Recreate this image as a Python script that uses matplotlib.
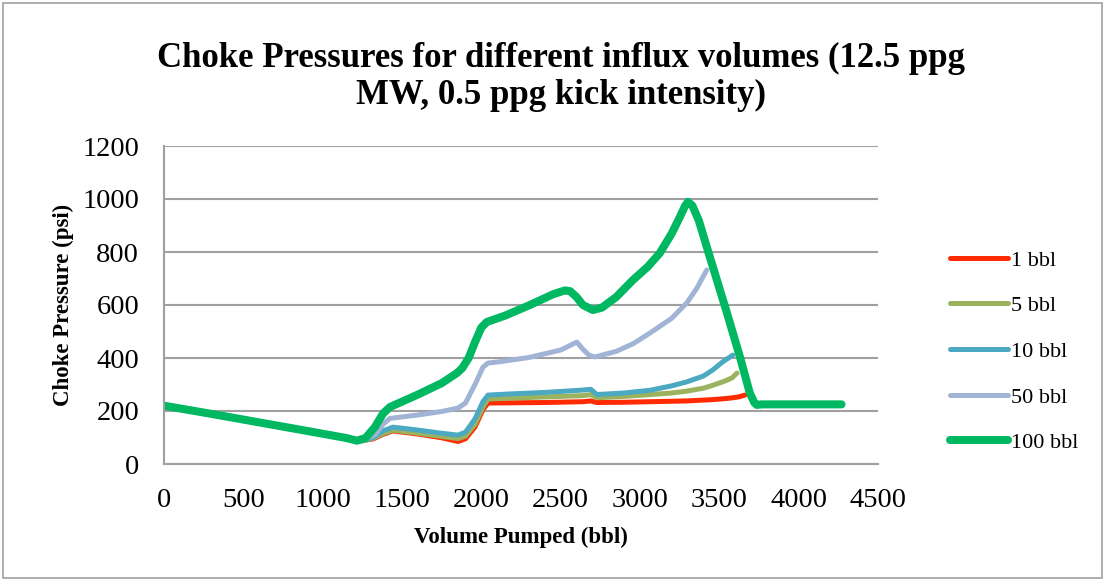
import matplotlib
matplotlib.use("Agg")
import matplotlib.pyplot as plt
from matplotlib.patches import Rectangle

plt.rcParams["font.family"] = ["Liberation Serif", "DejaVu Serif"]

# volume pumped (bbl) / choke pressure (psi)
x_1 = [0, 300, 600, 900, 1150, 1250, 1320, 1380, 1443, 1600, 1750, 1853,
       1900, 1960, 2010, 2042, 2200, 2400, 2640, 2690, 2728, 2900, 3062,
       3295, 3459, 3560, 3620, 3661]
y_1 = [220, 189, 157, 125, 98, 88, 95, 112, 125, 113, 99, 85,
       95, 140, 205, 230, 231, 232, 235, 238, 232, 233, 235,
       238, 243, 248, 253, 260]

x_5 = [0, 300, 600, 900, 1150, 1250, 1320, 1380, 1443, 1600, 1750, 1853,
       1900, 1960, 2010, 2042, 2200, 2400, 2640, 2690, 2728, 2900, 3062,
       3200, 3295, 3400, 3459, 3530, 3580, 3611]
y_5 = [220, 189, 157, 125, 98, 88, 97, 115, 128, 116, 104, 96,
       105, 150, 215, 245, 249, 253, 258, 262, 250, 255, 262,
       268, 275, 286, 297, 312, 325, 343]

x_10 = [0, 300, 600, 900, 1150, 1250, 1320, 1380, 1443, 1600, 1750, 1853,
        1900, 1960, 2010, 2042, 2200, 2400, 2640, 2690, 2728, 2900, 3062,
        3200, 3295, 3400, 3459, 3520, 3585]
y_10 = [220, 189, 157, 125, 98, 88, 100, 125, 139, 128, 116, 109,
        120, 170, 235, 260, 265, 270, 279, 282, 262, 268, 278,
        295, 310, 332, 355, 385, 411]

x_50 = [0, 300, 600, 900, 1150, 1250, 1330, 1380, 1424, 1600, 1750, 1853,
        1900, 1960, 2010, 2042, 2117, 2300, 2500, 2602, 2640, 2680, 2716,
        2850, 2960, 3062, 3200, 3295, 3360, 3400, 3421]
y_50 = [220, 189, 157, 125, 98, 88, 110, 150, 172, 185, 198, 211,
        230, 300, 365, 381, 386, 402, 430, 460, 433, 410, 404,
        425, 455, 494, 550, 608, 665, 710, 732]

x_100 = [0, 300, 600, 900, 1150, 1216, 1270, 1330, 1380, 1424, 1600, 1750,
         1846, 1880, 1920, 1960, 2000, 2035, 2150, 2306, 2450, 2500, 2527,
         2560, 2600, 2640, 2703, 2760, 2850, 2955, 3050, 3125, 3200, 3251,
         3285, 3302, 3330, 3370, 3421, 3548, 3630, 3692, 3720, 3736, 3768,
         4000, 4270]
y_100 = [220, 189, 157, 125, 98, 88, 98, 140, 190, 215, 262, 305,
         343, 362, 400, 460, 515, 536, 560, 600, 640, 650, 655,
         652, 630, 600, 581, 590, 630, 694, 745, 796, 870, 932,
         975, 989, 975, 920, 819, 570, 404, 268, 232, 223, 225,
         225, 225]

series = [
    ("1 bbl", x_1, y_1, "#ff2a00", 3.6),
    ("5 bbl", x_5, y_5, "#9bb35e", 3.6),
    ("10 bbl", x_10, y_10, "#4ba9c2", 3.6),
    ("50 bbl", x_50, y_50, "#a1b4d6", 3.6),
    ("100 bbl", x_100, y_100, "#00b862", 5.8),
]

fig = plt.figure(figsize=(11.05, 5.8), dpi=100)
ax = fig.add_axes([164 / 1105, 1 - 464 / 580, (878 - 164) / 1105, (464 - 146) / 580])

for name, xs, ys, col, lw in series:
    ax.plot(xs, ys, color=col, lw=lw, label=name, solid_capstyle="round",
            solid_joinstyle="round")

ax.set_xlim(0, 4500)
ax.set_ylim(0, 1200)
ax.set_xticks(range(0, 4501, 500))
ax.set_yticks(range(0, 1201, 200))
ax.grid(axis="y", color="#a0a0a0", lw=1.5)
ax.set_axisbelow(True)
for s in ["top", "right"]:
    ax.spines[s].set_visible(False)
for s in ["left", "bottom"]:
    ax.spines[s].set_color("#a0a0a0")
    ax.spines[s].set_linewidth(1.5)
ax.tick_params(axis="both", length=0, labelsize=20.5)
ax.tick_params(axis="x", pad=17)
ax.tick_params(axis="y", pad=18)

ax.set_xlabel("Volume Pumped (bbl)", fontsize=16.5, fontweight="bold", labelpad=10)
ax.set_ylabel("Choke Pressure (psi)", fontsize=16.5, fontweight="bold", labelpad=6)

fig.text(561 / 1105, 1 - 77 / 580,
         "Choke Pressures for different influx volumes (12.5 ppg\nMW, 0.5 ppg kick intensity)",
         ha="center", va="center", fontsize=25, fontweight="bold", linespacing=1.15)

ax.legend(loc="upper left", bbox_to_anchor=(930 / 1105, 1 - 230 / 580),
          bbox_transform=fig.transFigure, frameon=False, fontsize=16,
          handlelength=2.6, handletextpad=0.15, labelspacing=1.13)

fig.patches.append(Rectangle((3 / 1105, 2 / 580), 1099 / 1105, 575 / 580,
                             transform=fig.transFigure, fill=False,
                             edgecolor="#a0a0a0", lw=1.2))

fig.savefig("out.png", dpi=100)
